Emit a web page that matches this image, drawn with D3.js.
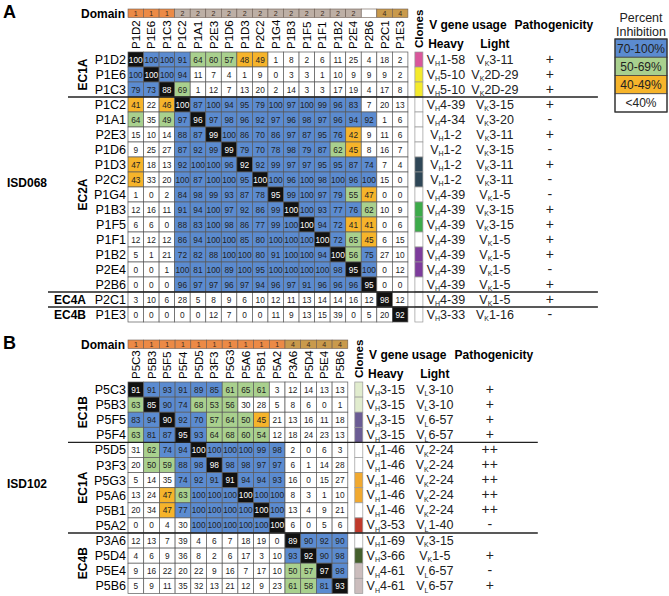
<!DOCTYPE html>
<html><head><meta charset="utf-8">
<script src="https://cdn.jsdelivr.net/npm/d3@7"></script>
<style>body{margin:0;background:#fff}svg{font-family:Arial,"Liberation Sans",sans-serif}</style>
</head><body><svg id="c" width="669" height="596"></svg>
<script>
// ---------------- DATA ----------------
const colsA = ["P1D2","P1E6","P1C3","P1C2","P1A1","P2E3","P1D6","P1D3","P2C2","P1G4","P1B3","P1F5","P1F1","P1B2","P2E4","P2B6","P2C1","P1E3"];
const rowsA = colsA.slice();
const domainA = ["1","1","1","2","2","2","2","2","2","2","2","2","2","2","2","","4","4"];
const groupNamesA = ["EC1A","EC2A","EC4A","EC4B"];
const groupSizesA = [3,13,1,1];
const valuesA = [
 [100,100,100,91,64,60,57,48,49,1,8,2,6,11,25,4,18,2],
 [100,100,100,94,11,7,4,1,9,0,3,3,1,10,9,9,9,2],
 [79,73,88,69,1,12,7,13,20,2,14,3,3,17,19,4,17,8],
 [41,22,46,100,87,100,94,95,79,100,97,100,99,96,83,7,20,13],
 [64,35,49,97,96,97,98,96,92,97,96,98,97,96,94,92,1,6],
 [15,10,14,88,87,99,100,86,70,86,97,87,95,76,42,9,11,6],
 [9,25,27,87,92,99,99,79,70,78,98,79,87,62,45,8,16,7],
 [47,18,13,92,100,100,96,92,92,99,97,97,95,95,87,74,7,4],
 [43,33,20,100,87,100,100,95,100,100,96,100,98,100,96,100,15,0],
 [1,0,2,84,98,99,93,87,78,95,99,100,97,79,55,47,0,0],
 [12,16,11,91,94,100,97,92,86,99,100,100,93,77,76,62,10,9],
 [6,6,0,88,83,100,98,86,77,99,100,100,94,72,41,41,0,6],
 [12,12,12,86,94,100,100,85,80,100,100,100,100,72,65,45,6,15],
 [5,1,21,72,82,88,100,100,80,91,100,100,94,100,56,75,27,10],
 [0,0,1,100,81,100,89,100,95,100,100,100,100,98,95,100,0,12],
 [0,0,0,96,97,97,96,97,94,96,97,91,96,96,96,95,0,0],
 [3,10,6,28,5,8,9,6,10,12,11,13,14,14,16,12,98,12],
 [0,0,0,0,0,12,7,0,0,11,9,13,15,39,0,5,20,92]
];
// cells shaded in a different class than their printed value in the source figure
const shadeOverridesA = [["P1A1","P1C3",50]];
const clonesA = ["a1","a2","a2","","","","","a3","a3","","a4","a4","","a5","a5","","",""];
const heavyA = ["1-58","5-10","5-10","4-39","4-34","1-2","1-2","1-2","1-2","4-39","4-39","4-39","4-39","4-39","4-39","4-39","4-39","3-33"];
const lightA = ["K3-11","K2D-29","K2D-29","K3-15","K3-20","K3-11","K3-15","K3-11","K3-11","K1-5","K3-15","K3-15","K1-5","K1-5","K1-5","K1-5","K1-5","K1-16"];
const pathoA = ["+","+","+","+","-","+","-","+","-","-","+","+","+","+","-","+","+","-"];

const colsB = ["P5C3","P5B3","P5F5","P5F4","P5D5","P3F3","P5G3","P5A6","P5B1","P5A2","P3A6","P5D4","P5E4","P5B6"];
const rowsB = colsB.slice();
const domainB = ["1","1","1","1","1","1","1","1","1","1","4","4","4","4"];
const groupNamesB = ["EC1B","EC1A","EC4B"];
const groupSizesB = [4,6,4];
const valuesB = [
 [91,91,93,91,89,85,61,65,61,3,12,14,13,13],
 [63,85,90,74,68,53,56,30,28,5,8,6,0,1],
 [83,94,90,92,70,57,64,50,45,21,13,16,11,18],
 [63,81,87,95,93,64,68,60,54,12,18,24,23,13],
 [31,62,74,94,100,100,100,100,99,98,2,0,6,3],
 [20,50,59,88,98,98,98,98,97,97,6,1,14,28],
 [5,14,35,74,92,91,91,94,94,93,16,0,15,27],
 [13,24,47,63,100,100,100,100,100,100,8,3,1,10],
 [20,34,47,77,100,100,100,100,100,100,13,4,9,21],
 [0,0,4,30,100,100,100,100,100,100,6,0,5,6],
 [12,13,7,39,4,6,7,18,19,0,89,90,92,90],
 [4,6,9,36,8,2,6,17,3,10,93,92,90,98],
 [9,16,22,20,22,9,16,7,17,10,50,57,97,98],
 [5,9,11,35,32,13,21,12,9,23,61,58,81,93]
];
const shadeOverridesB = [];
const clonesB = ["b1","b1","b2","b2","","","b3","b3","","b4","","b5","b6","b6"];
const heavyB = ["3-15","3-15","3-15","3-15","1-46","1-46","1-46","1-46","1-46","3-53","1-69","3-66","4-61","4-61"];
const lightB = ["L3-10","L3-10","L6-57","L6-57","K2-24","K2-24","K2-24","K2-24","K2-24","L1-40","K3-15","K1-5","L6-57","L6-57"];
const pathoB = ["+","+","+","+","++","++","++","++","++","-","","+","-","+"];

const legendLabels = ["70-100%","50-69%","40-49%","<40%"];
const legendLevels = [70,50,40,0];

// ---------------- STYLE ----------------
const color = d3.scaleThreshold().domain([40,50,70]).range(["#ffffff","#f6b42b","#a9d08e","#5b8bd0"]);
const domainColor = d3.scaleOrdinal().domain(["1","2","4",""]).range(["#ec8a46","#bdafa5","#c99a4c","#ffffff"]);
const cloneColor = d3.scaleOrdinal()
  .domain(["","a1","a2","a3","a4","a5","b1","b2","b3","b4","b5","b6"])
  .range(["#ffffff","#d9579c","#f4ea2c","#2f4757","#3dab4a","#7d3c9c","#e1ecce","#6b5c94","#f1a92f","#c0392b","#445f2c","#cbbdbd"]);

const svg = d3.select("#c");

function gene(sel, chain, rest){
  sel.append("tspan").text("V");
  sel.append("tspan").attr("font-size",7).attr("dy",2.8).text(chain);
  sel.append("tspan").attr("dy",-2.8).text(rest);
}

function panel(o){
  const g = svg.append("g");
  const x = d3.scaleBand().domain(o.cols).range([o.x0, o.x0 + o.cols.length*o.cw]);
  const y = d3.scaleBand().domain(o.rows).range([o.top, o.top + o.rows.length*o.rh]);
  const right = x.range()[1];

  g.append("text").attr("x",3).attr("y",o.domY+8.5).attr("font-size",18).attr("font-weight","bold").text(o.letter);
  g.append("text").attr("x",o.x0-3).attr("y",o.domY+8.5).attr("text-anchor","end")
    .attr("font-size",12).attr("font-weight","bold").text("Domain");
  g.selectAll("rect.dom").data(o.cols).join("rect").attr("class","dom")
    .attr("x",d=>x(d)).attr("y",o.domY).attr("width",x.bandwidth()).attr("height",o.domH)
    .attr("fill",(d,i)=>domainColor(o.domain[i])).attr("stroke","#6a5a50").attr("stroke-width",0.6);
  g.selectAll("text.domt").data(o.cols).join("text").attr("class","domt")
    .attr("x",d=>x(d)+x.bandwidth()/2).attr("y",o.domY+o.domH/2+2.5).attr("text-anchor","middle")
    .attr("font-size",7).attr("fill","#3a2a20").text((d,i)=>o.domain[i]);

  g.selectAll("text.col").data(o.cols).join("text").attr("class","col")
    .attr("transform",d=>`translate(${x(d)+x.bandwidth()/2+4},${o.top-3}) rotate(-90)`)
    .attr("font-size",11.5).text(d=>d);
  g.selectAll("text.row").data(o.rows).join("text").attr("class","row")
    .attr("x",o.x0-2).attr("y",d=>y(d)+y.bandwidth()/2+4.5).attr("text-anchor","end")
    .attr("font-size",12.5).text(d=>d);

  const cells = [];
  o.rows.forEach((r,i)=>o.cols.forEach((c,j)=>{
    const ov = o.over.find(q=>q[0]===r && q[1]===c);
    cells.push({r,c,v:o.values[i][j],diag:r===c,shade:ov?ov[2]:o.values[i][j]});
  }));
  g.selectAll("rect.cell").data(cells).join("rect").attr("class","cell")
    .attr("x",d=>x(d.c)).attr("y",d=>y(d.r)).attr("width",x.bandwidth()).attr("height",y.bandwidth())
    .attr("fill",d=>d.diag?"#111":color(d.shade)).attr("stroke","#5a5a5a").attr("stroke-width",0.7);
  g.selectAll("text.cv").data(cells).join("text").attr("class","cv")
    .attr("x",d=>x(d.c)+x.bandwidth()/2).attr("y",d=>y(d.r)+y.bandwidth()/2+3)
    .attr("text-anchor","middle").attr("font-size",8.3)
    .attr("fill",d=>d.diag?"#fff":"#222").text(d=>d.v);

  const cx = right + 7;
  g.append("text").attr("transform",`translate(${cx+8},${o.top-4}) rotate(-90)`)
    .attr("font-size",11.5).attr("font-weight","bold").text("Clones");
  g.selectAll("rect.cl").data(o.rows).join("rect").attr("class","cl")
    .attr("x",cx).attr("y",d=>y(d)).attr("width",8).attr("height",y.bandwidth())
    .attr("fill",(d,i)=>cloneColor(o.clones[i])).attr("stroke","#999").attr("stroke-width",0.7);

  const hx = right+38, lx = right+87, px = right+142;
  g.append("text").attr("x",right+60).attr("y",o.top-23).attr("text-anchor","middle")
    .attr("font-size",12).attr("font-weight","bold").text("V gene usage");
  g.append("text").attr("x",right+146).attr("y",o.top-23).attr("text-anchor","middle")
    .attr("font-size",12).attr("font-weight","bold").text("Pathogenicity");
  g.append("text").attr("x",hx).attr("y",o.top-4).attr("text-anchor","middle")
    .attr("font-size",12).attr("font-weight","bold").text("Heavy");
  g.append("text").attr("x",lx).attr("y",o.top-4).attr("text-anchor","middle")
    .attr("font-size",12).attr("font-weight","bold").text("Light");
  o.rows.forEach((r,i)=>{
    const yy = y(r)+y.bandwidth()/2+4;
    const th = g.append("text").attr("x",hx).attr("y",yy).attr("text-anchor","middle").attr("font-size",12.5).attr("fill","#222");
    gene(th,"H",o.heavy[i]);
    const tl = g.append("text").attr("x",lx).attr("y",yy).attr("text-anchor","middle").attr("font-size",12.5).attr("fill","#222");
    gene(tl,o.light[i][0],o.light[i].slice(1));
    g.append("text").attr("x",px).attr("y",yy).attr("text-anchor","middle").attr("font-size",14).attr("fill","#222").text(o.patho[i]);
  });

  let acc = 0;
  o.groupNames.forEach((name,k)=>{
    const n = o.groupSizes[k];
    const y0 = o.top + acc*o.rh, y1 = o.top + (acc+n)*o.rh;
    if (n >= 3) {
      g.append("text").attr("transform",`translate(${o.x0-41},${(y0+y1)/2}) rotate(-90)`)
        .attr("text-anchor","middle").attr("font-size",12).attr("font-weight","bold").text(name);
    } else {
      g.append("text").attr("x",o.x0-42).attr("y",(y0+y1)/2+4.5).attr("text-anchor","end")
        .attr("font-size",12).attr("font-weight","bold").text(name);
    }
    if (k>0) {
      const short = n < 3 || o.groupSizes[k-1] < 3;
      g.append("line").attr("x1",short?o.x0-80:o.x0-60).attr("x2",right+190).attr("y1",y0).attr("y2",y0)
        .attr("stroke","#222").attr("stroke-width",1.4);
    }
    acc += n;
  });
  g.append("text").attr("x",7).attr("y",o.isdY).attr("font-size",12).attr("font-weight","bold").text(o.isd);
}

panel({letter:"A",cols:colsA,rows:rowsA,domain:domainA,values:valuesA,over:shadeOverridesA,clones:clonesA,
  heavy:heavyA,light:lightA,patho:pathoA,groupNames:groupNamesA,groupSizes:groupSizesA,
  x0:128,cw:15.55,top:52,rh:15,domY:9,domH:8.5,isd:"ISD068",isdY:187});
panel({letter:"B",cols:colsB,rows:rowsB,domain:domainB,values:valuesB,over:shadeOverridesB,clones:clonesB,
  heavy:heavyB,light:lightB,patho:pathoB,groupNames:groupNamesB,groupSizes:groupSizesB,
  x0:128,cw:15.7,top:382,rh:15.1,domY:340,domH:8.5,isd:"ISD102",isdY:488});

const lg = svg.append("g");
lg.append("text").attr("x",641).attr("y",22).attr("text-anchor","middle").attr("font-size",12.5).attr("fill","#222").text("Percent");
lg.append("text").attr("x",641).attr("y",36).attr("text-anchor","middle").attr("font-size",12.5).attr("fill","#222").text("Inhibition");
const ly = d3.scaleBand().domain(legendLabels).range([39,112]);
lg.selectAll("rect").data(legendLabels).join("rect")
  .attr("x",615).attr("y",d=>ly(d)).attr("width",52).attr("height",ly.bandwidth())
  .attr("fill",(d,i)=>color(legendLevels[i])).attr("stroke","#444").attr("stroke-width",0.8);
lg.selectAll("text.lt").data(legendLabels).join("text").attr("class","lt")
  .attr("x",641).attr("y",d=>ly(d)+ly.bandwidth()/2+4.5).attr("text-anchor","middle")
  .attr("font-size",12).attr("fill","#222").text(d=>d);
lg.append("rect").attr("x",615).attr("y",39).attr("width",52).attr("height",73).attr("fill","none").attr("stroke","#333").attr("stroke-width",1.2);
</script></body></html>
